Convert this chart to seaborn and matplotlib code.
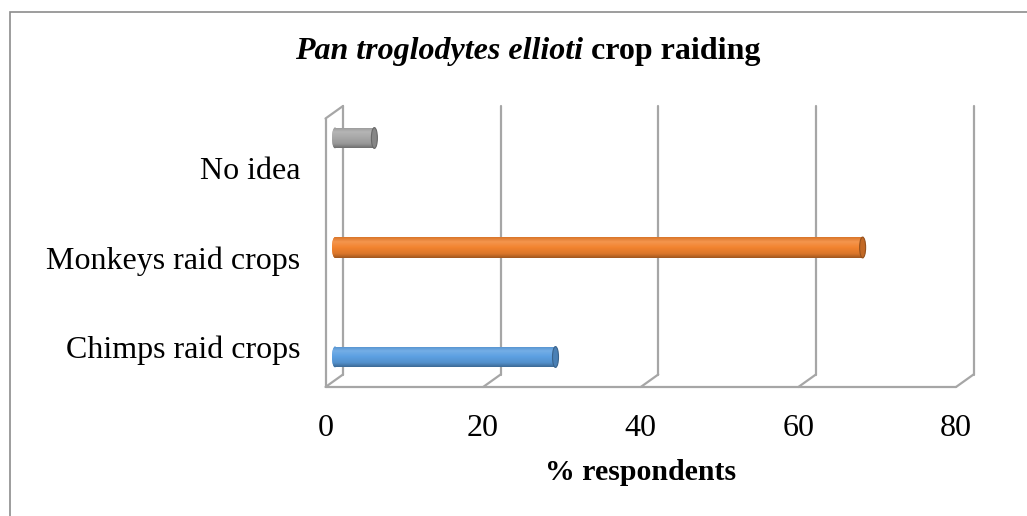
import numpy as np
import pandas as pd
import matplotlib
matplotlib.use("Agg")
import matplotlib.pyplot as plt
import matplotlib.transforms as mtransforms
from matplotlib.patches import Ellipse, Rectangle
from matplotlib.colors import LinearSegmentedColormap, to_rgb
import seaborn as sns

# --- data -------------------------------------------------------------
categories = ["No idea", "Monkeys raid crops", "Chimps raid crops"]
respondents_pct = [5, 67, 28]
bar_colors = ["#A8A8A8", "#F2832F", "#5CA0E2"]
x_ticks = [0, 20, 40, 60, 80]
title_italic = "Pan troglodytes ellioti "
title_plain = "crop raiding"
x_label = "% respondents"

df = pd.DataFrame({"answer": categories, "pct": respondents_pct})

sns.set_style("white")
plt.rcParams["font.family"] = ["Liberation Serif", "DejaVu Serif"]
plt.rcParams["text.color"] = "black"
plt.rcParams["axes.labelcolor"] = "black"
plt.rcParams["xtick.color"] = "black"
plt.rcParams["ytick.color"] = "black"

W, H, DPI = 1027, 516, 100
fig = plt.figure(figsize=(W / DPI, H / DPI), dpi=DPI)
fig.patch.set_facecolor("white")


def fx(px):
    return px / W


def fy(py_img):
    return (H - py_img) / H


# front plane of the 3-D box (labels + floor), in pixels
front_left, front_right = 325.5, 956.0
floor_y, top_y_front = 387.0, 118.5
depth_dx, depth_dy = 17.5, 12.5          # offset of the back wall

ax_lab = fig.add_axes([fx(front_left), fy(floor_y),
                       fx(front_right - front_left), (floor_y - top_y_front) / H])
ax_lab.set_xlim(0, 80)
ax_lab.set_ylim(2.447, -0.553)
ax_lab.set_xticks(x_ticks)
ax_lab.set_xticklabels([str(t) for t in x_ticks])
ax_lab.set_yticks(range(len(categories)))
ax_lab.set_yticklabels(categories)
ax_lab.tick_params(axis="x", length=0, pad=19.5, labelsize=23, labelcolor="black")
ax_lab.tick_params(axis="y", length=0, pad=18, labelsize=23, labelcolor="black")
for s in ax_lab.spines.values():
    s.set_visible(False)
ax_lab.patch.set_alpha(0)
ax_lab.set_xlabel(x_label, fontsize=21.5, fontweight="bold", color="black")
ax_lab.xaxis.set_label_coords(0.5, -(472 - floor_y) / (floor_y - top_y_front))
ax_lab.xaxis.label.set_va("center")

# wall / grid lines: x in data, y in axes fraction
blend = mtransforms.blended_transform_factory(ax_lab.transData, ax_lab.transAxes)
back = blend + mtransforms.ScaledTranslation(depth_dx / DPI, depth_dy / DPI,
                                             fig.dpi_scale_trans)
line_kw = dict(color="#a6a6a6", lw=1.6, solid_capstyle="round", clip_on=False)
for t in x_ticks:
    ax_lab.plot([t, t], [0, 1], transform=back, **line_kw)
    # diagonal from back floor to front floor
    p_front = blend.transform((t, 0))
    p_back = back.transform((t, 0))
    fig.add_artist(plt.Line2D([p_front[0] / W, p_back[0] / W],
                              [p_front[1] / H, p_back[1] / H],
                              transform=fig.transFigure, **line_kw))
ax_lab.plot([0, 80], [0, 0], transform=blend, **line_kw)
ax_lab.plot([0, 0], [0, 1], transform=blend, **line_kw)
p_f = blend.transform((0, 1))
p_b = back.transform((0, 1))
fig.add_artist(plt.Line2D([p_f[0] / W, p_b[0] / W], [p_f[1] / H, p_b[1] / H],
                          transform=fig.transFigure, **line_kw))

# --- cylinders --------------------------------------------------------
bar_zero, bar_80 = 335.0, 965.0
px_per_unit = (bar_80 - bar_zero) / 80.0
x_lo = -1.0                                 # room for the rounded left ends
ax_bar = fig.add_axes([fx(bar_zero + x_lo * px_per_unit), fy(floor_y),
                       fx(bar_80 - bar_zero - x_lo * px_per_unit),
                       (floor_y - top_y_front) / H])
sns.barplot(data=df, x="pct", y="answer", hue="answer", order=categories,
            hue_order=categories, palette=bar_colors, orient="h",
            width=0.19, linewidth=0, legend=False, ax=ax_bar)
ax_bar.axis("off")
ax_bar.patch.set_alpha(0)

cap_w = 6.0 / px_per_unit


def shade(c, f):
    r = np.array(to_rgb(c))
    return tuple(np.clip(r * f, 0, 1))


def tint(c, f):
    r = np.array(to_rgb(c))
    return tuple(r + (1 - r) * f)


grad = np.linspace(0, 1, 64).reshape(-1, 1)
for patch, col in zip(list(ax_bar.patches), bar_colors):
    x0, y0 = patch.get_x(), patch.get_y()
    w, h = patch.get_width(), patch.get_height()
    cmap = LinearSegmentedColormap.from_list(
        "cyl", [(0.0, shade(col, 0.9)), (0.22, tint(col, 0.15)),
                (0.5, to_rgb(col)), (0.8, shade(col, 0.9)),
                (1.0, shade(col, 0.66))])
    left_cap = Ellipse((x0, y0 + h / 2), cap_w, h, facecolor=col,
                       edgecolor="none", zorder=2)
    ax_bar.add_patch(left_cap)
    for clip in (patch, left_cap):
        im = ax_bar.imshow(grad, cmap=cmap, aspect="auto", origin="upper",
                           extent=[x0 - cap_w, x0 + w, y0 + h, y0],
                           zorder=3, interpolation="bilinear")
        im.set_clip_path(clip)
    ax_bar.add_patch(Ellipse((x0 + w, y0 + h / 2), cap_w, h,
                             facecolor=shade(col, 0.8),
                             edgecolor=shade(col, 0.62), lw=0.8, zorder=4))
ax_bar.set_xlim(x_lo, 80)
ax_bar.set_ylim(2.274, -0.178)

# --- title ------------------------------------------------------------
t1 = fig.text(0, fy(51), title_italic, fontsize=23, fontweight="bold",
              fontstyle="italic", va="center", ha="left")
t2 = fig.text(0, fy(51), title_plain, fontsize=23, fontweight="bold",
              va="center", ha="left")
fig.canvas.draw()
r = fig.canvas.get_renderer()
w1 = t1.get_window_extent(r).width
w2 = t2.get_window_extent(r).width
start = 528 - (w1 + w2) / 2
t1.set_x(start / W)
t2.set_x((start + w1) / W)

# chart frame
fig.add_artist(Rectangle((fx(10), -0.1), 1.2, fy(12) + 0.1,
                         transform=fig.transFigure, fill=False,
                         edgecolor="#8c8c8c", lw=1.2))

fig.savefig("out.png", dpi=DPI)
